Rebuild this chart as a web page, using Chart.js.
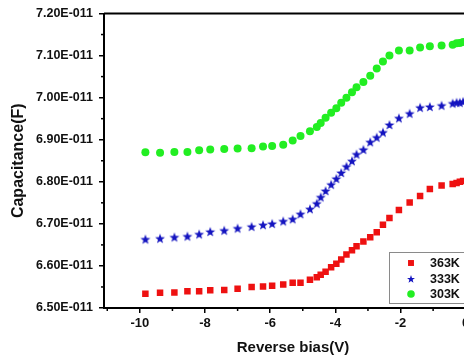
<!DOCTYPE html>
<html><head><meta charset="utf-8">
<script src="https://cdn.jsdelivr.net/npm/chart.js@4/dist/chart.umd.min.js"></script>
<style>
html,body{margin:0;padding:0;overflow:hidden;background:#fff;width:464px;height:363px}
#wrap{position:absolute;left:0;top:0;width:500px;height:363px}
canvas{display:block}
</style></head><body>
<div id="wrap"><canvas id="c" width="500" height="363" style="width:500px;height:363px"></canvas></div>
<script>
// Reverse bias (V)
const biasV = [-9.83,-9.38,-8.94,-8.54,-8.18,-7.84,-7.41,-7.00,-6.57,-6.22,-5.94,-5.60,-5.31,-5.07,-4.78,-4.57,-4.45,-4.30,-4.13,-3.97,-3.82,-3.66,-3.49,-3.35,-3.14,-2.93,-2.73,-2.54,-2.34,-2.05,-1.72,-1.40,-1.10,-0.74,-0.40,-0.28,-0.18,-0.08];
// Capacitance (F)
const cap363K = [6.534,6.536,6.537,6.540,6.540,6.542,6.543,6.546,6.550,6.551,6.553,6.556,6.560,6.560,6.567,6.573,6.579,6.586,6.597,6.605,6.615,6.627,6.637,6.647,6.658,6.668,6.680,6.698,6.714,6.733,6.751,6.766,6.783,6.791,6.795,6.797,6.800,6.802].map(v=>v*1e-11);
const cap333K = [6.663,6.665,6.668,6.670,6.675,6.681,6.684,6.689,6.693,6.697,6.700,6.706,6.711,6.723,6.735,6.748,6.763,6.778,6.793,6.807,6.821,6.836,6.849,6.865,6.876,6.894,6.905,6.917,6.935,6.951,6.962,6.976,6.978,6.981,6.986,6.988,6.988,6.990].map(v=>v*1e-11);
const cap303K = [6.870,6.869,6.871,6.871,6.875,6.877,6.878,6.879,6.880,6.884,6.885,6.888,6.898,6.909,6.920,6.930,6.940,6.952,6.964,6.975,6.988,7.000,7.013,7.025,7.037,7.052,7.069,7.086,7.100,7.112,7.112,7.119,7.122,7.124,7.126,7.129,7.130,7.132].map(v=>v*1e-11);
const seriesLabels = ['363K','333K','303K'];
const xTicks = [-10,-8,-6,-4,-2,0];
const xMinor = [-11,-9,-7,-5,-3,-1];
const yTicks = [6.50e-11,6.60e-11,6.70e-11,6.80e-11,6.90e-11,7.00e-11,7.10e-11,7.20e-11];
const yMinor = [6.55e-11,6.65e-11,6.75e-11,6.85e-11,6.95e-11,7.05e-11,7.15e-11];

function makeStar(color,R,r){
  const n=Math.ceil(R*2+1);
  const c=document.createElement('canvas'); c.width=n; c.height=n;
  const g=c.getContext('2d'); g.fillStyle=color; g.beginPath();
  const cx=n/2, cy=n/2+0.3;
  for(let i=0;i<10;i++){
    const a=-Math.PI/2+i*Math.PI/5; const rad=i%2?r:R;
    const px=cx+rad*Math.cos(a), py=cy+rad*Math.sin(a);
    i?g.lineTo(px,py):g.moveTo(px,py);
  }
  g.closePath(); g.fill(); return c;
}
const RED='#ee1111', BLUE='#1414c0', GREEN='#22ee22';
const star=makeStar(BLUE,5.2,2.1);
const smallStar=makeStar(BLUE,4.2,1.7);
const FONT="'Liberation Sans', Arial, sans-serif";

const pts=(ys)=>biasV.map((x,i)=>({x:x,y:ys[i]}));
const datasets=[
  {label:seriesLabels[0],data:pts(cap363K),pointStyle:'rect',pointRadius:4.6,backgroundColor:RED,borderWidth:0,showLine:false},
  {label:seriesLabels[1],data:pts(cap333K),pointStyle:star,pointRadius:5,backgroundColor:BLUE,borderWidth:0,showLine:false},
  {label:seriesLabels[2],data:pts(cap303K),pointStyle:'circle',pointRadius:4,backgroundColor:GREEN,borderWidth:0,showLine:false}
];

const decor={
  id:'decor',
  afterDraw(chart){
    const {ctx,chartArea:a,scales:{x,y}}=chart;
    ctx.save();
    ctx.strokeStyle='#000'; ctx.lineWidth=1.5;
    xMinor.forEach(v=>{const p=x.getPixelForValue(v);ctx.beginPath();ctx.moveTo(p,a.bottom);ctx.lineTo(p,a.bottom+3);ctx.stroke();});
    yMinor.forEach(v=>{const p=y.getPixelForValue(v);ctx.beginPath();ctx.moveTo(a.left,p);ctx.lineTo(a.left-3,p);ctx.stroke();});
    ctx.lineWidth=2; ctx.beginPath(); ctx.moveTo(a.left,a.top); ctx.lineTo(a.right,a.top); ctx.lineTo(a.right,a.bottom); ctx.stroke();
    // legend
    const lx=389, ly=252;
    ctx.fillStyle='#fff'; ctx.fillRect(lx,ly,130,51);
    ctx.strokeStyle='#8a8a8a'; ctx.lineWidth=1; ctx.strokeRect(lx+0.5,ly+0.5,130,51);
    const ys=[263,279,294];
    chart.data.datasets.forEach((d,i)=>{
      const yy=ys[i];
      ctx.beginPath();
      ctx.fillStyle=d.backgroundColor;
      const ps = i==1 ? smallStar : d.pointStyle;
      Chart.helpers.drawPoint(ctx,{pointStyle:ps,radius:i==0?4.2:(i==1?4:3.8),rotation:0,borderWidth:0},411,yy);
      ctx.beginPath();
      ctx.fillStyle='#111'; ctx.font='bold 12.5px '+FONT; ctx.textBaseline='middle'; ctx.textAlign='left';
      ctx.fillText(d.label,430,yy+0.5);
    });
    ctx.restore();
  }
};

new Chart(document.getElementById('c'),{
  type:'scatter',
  data:{datasets},
  options:{
    responsive:false, animation:false,
    layout:{padding:{top:13,right:18,bottom:0,left:0}},
    plugins:{legend:{display:false},tooltip:{enabled:false}},
    scales:{
      x:{type:'linear',min:-11.1,max:0.5,
        afterBuildTicks:s=>{s.ticks=xTicks.map(v=>({value:v}));},
        afterFit:s=>{s.height=55;},
        ticks:{color:'#111',font:{family:FONT,size:13,weight:'bold'},padding:3,callback:v=>String(v)},
        grid:{drawOnChartArea:false,drawTicks:true,tickLength:5,color:'#000',lineWidth:1.5},
        border:{display:true,color:'#000',width:2},
        title:{display:true,text:'Reverse bias(V)',color:'#111',font:{family:FONT,size:15,weight:'bold'},padding:{top:0,bottom:6}}
      },
      y:{type:'linear',min:6.5e-11,max:7.2e-11,
        afterBuildTicks:s=>{s.ticks=yTicks.map(v=>({value:v}));},
        afterFit:s=>{s.width=104;},
        ticks:{color:'#111',font:{family:FONT,size:12.5,weight:'bold'},padding:6,callback:v=>(v/1e-11).toFixed(2)+'E-011'},
        grid:{drawOnChartArea:false,drawTicks:true,tickLength:5,color:'#000',lineWidth:1.5},
        border:{display:true,color:'#000',width:2},
        title:{display:true,text:'Capacitance(F)',color:'#111',font:{family:FONT,size:16,weight:'bold'},padding:{top:9,bottom:0}}
      }
    }
  },
  plugins:[decor]
});
</script>
</body></html>
